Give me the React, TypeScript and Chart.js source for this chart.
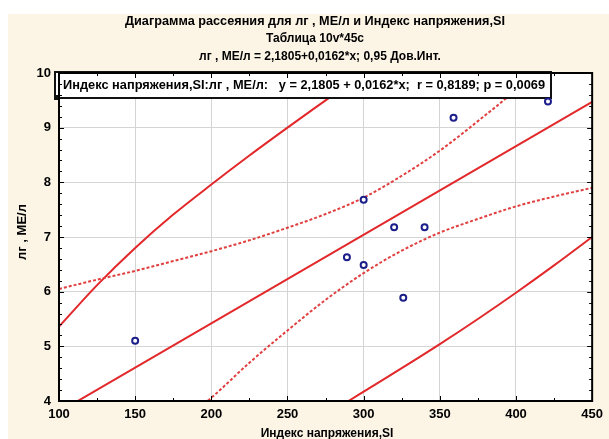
import React, { useEffect, useRef } from "react";
import { Chart, registerables } from "chart.js";

Chart.register(...registerables);

// Observed points: Индекс напряжения,SI (x) vs лг , МЕ/л (y)
const siValues = [150, 289, 300, 300, 320, 326, 340, 359, 421];
const lgValues = [5.1, 6.63, 7.68, 6.49, 7.18, 5.89, 7.18, 9.18, 9.48];

// Regression line y = 2,1805 + 0,0162*x
const regX = [100, 450];
const regY = [3.8, 9.47];

// 0,95 confidence band (dotted)
const confUpX = [100, 125, 150, 175, 200, 225, 250, 275, 300, 325, 350, 375, 400, 420];
const confUpY = [6.05, 6.22, 6.38, 6.56, 6.74, 6.94, 7.17, 7.42, 7.72, 8.12, 8.58, 9.12, 9.7, 10.28];
const confLoX = [190, 200, 225, 250, 275, 300, 325, 350, 375, 400, 425, 450];
const confLoY = [3.84, 4.06, 4.7, 5.29, 5.85, 6.34, 6.75, 7.08, 7.33, 7.56, 7.74, 7.9];

// Outer solid band
const outUpX = [100, 125, 150, 175, 200, 225, 250, 275, 300, 310];
const outUpY = [5.36, 6.12, 6.8, 7.41, 7.96, 8.49, 9.0, 9.5, 10.0, 10.2];
const outLoX = [270, 290, 325, 350, 375, 400, 425, 450];
const outLoY = [3.67, 4.0, 4.6, 5.04, 5.5, 5.98, 6.48, 7.0];

const xTicks = [100, 150, 200, 250, 300, 350, 400, 450];
const yTicks = [4, 5, 6, 7, 8, 9, 10];

const titleLines = [
  "Диаграмма рассеяния для лг , МЕ/л и Индекс напряжения,SI",
  "Таблица 10v*45c",
  "лг , МЕ/л = 2,1805+0,0162*x; 0,95 Дов.Инт.",
];
const legendText = "Индекс напряжения,SI:лг , МЕ/л:   y = 2,1805 + 0,0162*x;  r = 0,8189; p = 0,0069";
const xTitle = "Индекс напряжения,SI";
const yTitle = "лг , МЕ/л";

const FONT = "'Liberation Sans', Arial, sans-serif";
const RED = "#e2282a";
const RED_DOT = "#e0403f";
const NAVY = "#1c1f8a";

function pts(xs: number[], ys: number[]) {
  return xs.map((x, i) => ({ x, y: ys[i] }));
}

export default function App() {
  const ref = useRef<HTMLCanvasElement | null>(null);

  useEffect(() => {
    document.body.style.margin = "0";
    const canvas = ref.current;
    if (!canvas) return;

    const decor = {
      id: "decor",
      beforeDraw(chart: any) {
        const { ctx, chartArea: a } = chart;
        ctx.save();
        ctx.fillStyle = "#ffffff";
        ctx.fillRect(0, 0, chart.width, chart.height);
        ctx.fillStyle = "#fcf5e6";
        ctx.fillRect(8, 14, chart.width - 8, chart.height - 14);
        ctx.fillStyle = "#ffffff";
        ctx.fillRect(a.left, a.top, a.right - a.left, a.bottom - a.top);
        ctx.restore();
      },
      afterDatasetDraw(chart: any, args: any) {
        if (args.index !== 1) return;
        const { ctx } = chart;
        ctx.save();
        const bx = 55, by = 72, bw = 496, bh = 26;
        ctx.fillStyle = "#ffffff";
        ctx.fillRect(bx, by, bw, bh);
        ctx.strokeStyle = "#111";
        ctx.lineWidth = 2;
        ctx.strokeRect(bx, by, bw, bh);
        ctx.fillStyle = "#111";
        ctx.fillRect(bx - 1, by + bh - 3, 5, 5);
        ctx.fillStyle = "#000";
        ctx.font = `bold 13px ${FONT}`;
        ctx.textBaseline = "middle";
        ctx.textAlign = "left";
        ctx.fillText(legendText, 63, 85.5, 482);
        ctx.restore();
      },
      afterDraw(chart: any) {
        const { ctx, chartArea: a, scales } = chart;
        ctx.save();
        // border
        ctx.strokeStyle = "#000";
        ctx.lineWidth = 2;
        ctx.strokeRect(a.left, a.top, a.right - a.left, a.bottom - a.top);
        // inner ticks
        ctx.lineWidth = 1;
        ctx.beginPath();
        for (let v = 4; v <= 10.001; v += 0.2) {
          const y = Math.round(scales.y.getPixelForValue(v)) + 0.5;
          const major = Math.abs(v - Math.round(v)) < 1e-6;
          const len = major ? 5 : 3;
          ctx.moveTo(a.left, y);
          ctx.lineTo(a.left + len, y);
          ctx.moveTo(a.right, y);
          ctx.lineTo(a.right - len, y);
        }
        for (let v = 100; v <= 450; v += 25) {
          const x = Math.round(scales.x.getPixelForValue(v)) + 0.5;
          const len = v % 50 === 0 ? 5 : 3;
          ctx.moveTo(x, a.bottom);
          ctx.lineTo(x, a.bottom - len);
          ctx.moveTo(x, a.top);
          ctx.lineTo(x, a.top + len);
        }
        ctx.stroke();
        // titles
        ctx.fillStyle = "#000";
        ctx.textAlign = "center";
        ctx.textBaseline = "middle";
        ctx.font = `bold 13px ${FONT}`;
        ctx.fillText(titleLines[0], 315, 21, 380);
        ctx.font = `bold 12px ${FONT}`;
        ctx.fillText(titleLines[1], 315, 39, 100);
        ctx.fillText(titleLines[2], 320, 57, 248);
        // axis titles
        ctx.fillText(xTitle, 327, 434, 140);
        ctx.translate(22, 232);
        ctx.rotate(-Math.PI / 2);
        ctx.font = `bold 13px ${FONT}`;
        ctx.fillText(yTitle, 0, 0, 62);
        ctx.restore();
      },
    };

    const smooth = { showLine: true, pointRadius: 0, cubicInterpolationMode: "monotone" };

    const chart = new Chart(canvas, {
      type: "scatter",
      data: {
        datasets: [
          {
            label: "points",
            data: pts(siValues, lgValues),
            showLine: false,
            pointRadius: 3,
            pointBorderWidth: 2,
            pointBorderColor: NAVY,
            pointBackgroundColor: "#ffffff",
          },
          {
            label: "regression",
            data: pts(regX, regY),
            showLine: true,
            pointRadius: 0,
            borderColor: RED,
            borderWidth: 2,
          },
          {
            label: "confUp",
            data: pts(confUpX, confUpY),
            ...smooth,
            borderColor: RED_DOT,
            borderWidth: 2,
            borderDash: [3, 2],
          },
          {
            label: "confLo",
            data: pts(confLoX, confLoY),
            ...smooth,
            borderColor: RED_DOT,
            borderWidth: 2,
            borderDash: [3, 2],
          },
          {
            label: "outUp",
            data: pts(outUpX, outUpY),
            ...smooth,
            borderColor: RED,
            borderWidth: 2,
          },
          {
            label: "outLo",
            data: pts(outLoX, outLoY),
            ...smooth,
            borderColor: RED,
            borderWidth: 2,
          },
        ],
      },
      options: {
        animation: false,
        responsive: false,
        devicePixelRatio: 1,
        layout: { padding: { left: 8, top: 73, right: 12, bottom: 0 } },
        plugins: {
          legend: { display: false },
          title: { display: false },
          tooltip: { enabled: false },
        },
        scales: {
          x: {
            type: "linear",
            min: 100,
            max: 450,
            afterFit: (s: any) => {
              s.height = 38;
            },
            afterBuildTicks: (s: any) => {
              s.ticks = xTicks.map((v) => ({ value: v }));
            },
            grid: { color: "#d4d4d4", lineWidth: 1, drawTicks: false },
            border: { display: false },
            ticks: {
              padding: 6,
              color: "#000",
              font: { family: FONT, size: 13, weight: "bold" },
              maxRotation: 0,
            },
          },
          y: {
            type: "linear",
            min: 4,
            max: 10,
            afterFit: (s: any) => {
              s.width = 51;
            },
            afterBuildTicks: (s: any) => {
              s.ticks = yTicks.map((v) => ({ value: v }));
            },
            grid: { color: "#d4d4d4", lineWidth: 1, drawTicks: false },
            border: { display: false },
            ticks: {
              padding: 8,
              color: "#000",
              font: { family: FONT, size: 13, weight: "bold" },
            },
          },
        },
      },
      plugins: [decor],
    } as any);

    return () => chart.destroy();
  }, []);

  return (
    <div style={{ position: "fixed", left: 0, top: 0, width: 609, height: 439 }}>
      <canvas ref={ref} width={609} height={439} style={{ display: "block" }} />
    </div>
  );
}
